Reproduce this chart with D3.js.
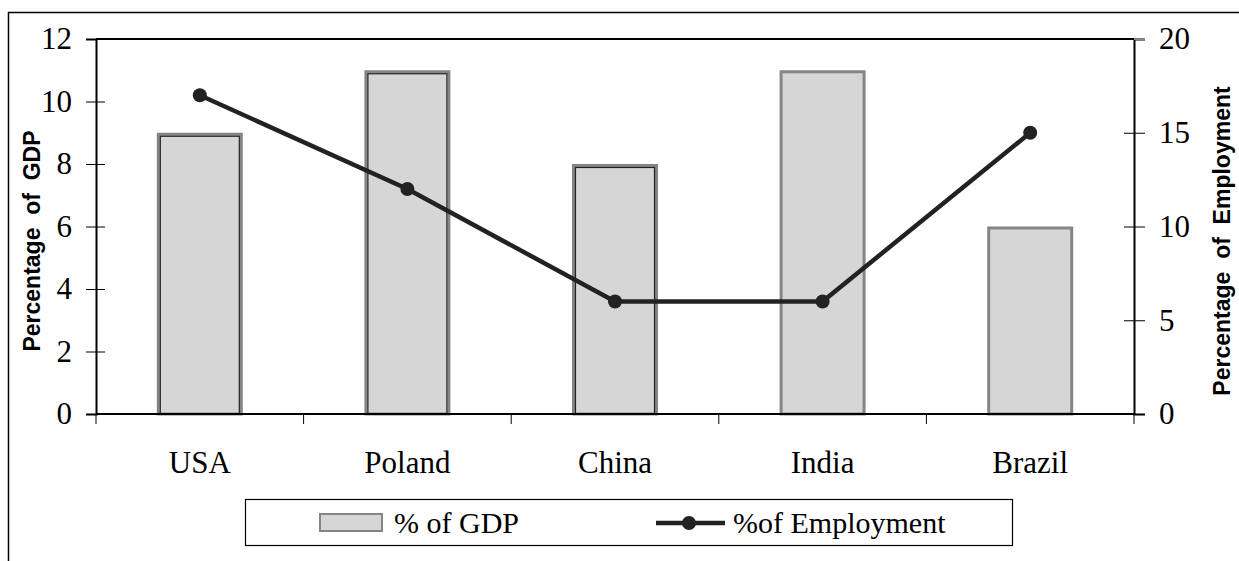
<!DOCTYPE html>
<html lang="en">
<head>
    <meta charset="UTF-8">
    <title>GDP and Employment</title>
    <script src="https://d3js.org/d3.v7.min.js"></script>
    <style>
        body { margin: 0; background: #fff; }
    </style>
</head>
<body>
    <div id="chart"></div>
    <script>
        // Data
        const countries = ["USA", "Poland", "China", "India", "Brazil"];
        const gdpShare = [9, 11, 8, 11, 6];
        const employmentShare = [17, 12, 6, 6, 15];
        const leftTicks = [0, 2, 4, 6, 8, 10, 12];
        const rightTicks = [0, 5, 10, 15, 20];

        const W = 1239, H = 561;
        const plot = { left: 96, right: 1134, top: 39, bottom: 414 };
        const SERIF = '"Liberation Serif", "Times New Roman", serif';
        const SANS = '"Liberation Sans", Arial, sans-serif';

        const svg = d3.select("#chart").append("svg")
            .attr("width", W).attr("height", H);

        // outer frame (clipped by the picture on right/bottom)
        svg.append("rect")
            .attr("x", 8.5).attr("y", 12.5)
            .attr("width", W).attr("height", H)
            .attr("fill", "none").attr("stroke", "#000").attr("stroke-width", 1.5);

        // Scales
        const x = d3.scaleBand().domain(countries).range([plot.left, plot.right]);
        const yL = d3.scaleLinear().domain([0, 12]).range([plot.bottom, plot.top]);
        const yR = d3.scaleLinear().domain([0, 20]).range([plot.bottom, plot.top]);

        // Bars
        const barW = 86;
        const bars = svg.append("g");
        countries.forEach((c, i) => {
            const bx = x(c) + x.bandwidth() / 2 - barW / 2;
            const by = yL(gdpShare[i]);
            bars.append("rect")
                .attr("x", bx + 1.5).attr("y", by + 1.5)
                .attr("width", barW - 3).attr("height", plot.bottom - by - 1.5)
                .attr("fill", "#d6d6d6")
                .attr("stroke", "#858585").attr("stroke-width", 3);
            if (i < 3) {
                bars.append("rect")
                    .attr("x", bx + 3.5).attr("y", by + 3.5)
                    .attr("width", barW - 7).attr("height", plot.bottom - by - 3.5)
                    .attr("fill", "none")
                    .attr("stroke", "#222").attr("stroke-width", 1.2);
            }
        });

        // Plot frame top line
        svg.append("line")
            .attr("x1", plot.left).attr("x2", plot.right)
            .attr("y1", plot.top).attr("y2", plot.top)
            .attr("stroke", "#000").attr("stroke-width", 2);

        // Left axis
        const left = svg.append("g").attr("transform", `translate(${plot.left},0)`)
            .call(d3.axisLeft(yL).tickValues(leftTicks).tickSize(10).tickPadding(14));
        left.select(".domain").attr("stroke-width", 2);
        left.selectAll(".tick line").attr("x2", -10).attr("x1", 9).attr("stroke-width", 1);
        left.selectAll(".tick text")
            .style("font-family", SERIF).style("font-size", "31px").attr("fill", "#000");

        // Right axis
        const right = svg.append("g").attr("transform", `translate(${plot.right},0)`)
            .call(d3.axisRight(yR).tickValues(rightTicks).tickSize(11).tickPadding(14));
        right.select(".domain").attr("stroke-width", 2);
        right.selectAll(".tick line").attr("x1", -10).attr("x2", 11).attr("stroke-width", 1);
        right.selectAll(".tick text")
            .style("font-family", SERIF).style("font-size", "31px").attr("fill", "#000");
        right.selectAll(".tick").filter(d => d === 20).select("line").attr("x1", 0).attr("stroke", "#888");

        // Bottom axis
        const bottom = svg.append("g");
        bottom.append("line")
            .attr("x1", plot.left).attr("x2", plot.right)
            .attr("y1", plot.bottom).attr("y2", plot.bottom)
            .attr("stroke", "#000").attr("stroke-width", 2);
        const bounds = countries.map(c => x(c)).concat([plot.right]);
        bottom.selectAll(".btick").data(bounds).enter().append("line")
            .attr("x1", d => d).attr("x2", d => d)
            .attr("y1", plot.bottom).attr("y2", plot.bottom + 10)
            .attr("stroke", "#000").attr("stroke-width", 1);
        bottom.selectAll(".blabel").data(countries).enter().append("text")
            .attr("x", d => x(d) + x.bandwidth() / 2)
            .attr("y", 473)
            .attr("text-anchor", "middle")
            .style("font-family", SERIF).style("font-size", "31px")
            .text(d => d);

        // Employment line
        const line = d3.line()
            .x((d, i) => x(countries[i]) + x.bandwidth() / 2)
            .y(d => yR(d));
        svg.append("path")
            .datum(employmentShare)
            .attr("d", line)
            .attr("fill", "none").attr("stroke", "#222").attr("stroke-width", 4.5);
        svg.selectAll(".dot").data(employmentShare).enter().append("circle")
            .attr("cx", (d, i) => x(countries[i]) + x.bandwidth() / 2)
            .attr("cy", d => yR(d))
            .attr("r", 7)
            .attr("fill", "#222");

        // Axis titles
        svg.append("text")
            .attr("transform", "translate(40,241) rotate(-90)")
            .attr("text-anchor", "middle")
            .style("font-family", SANS).style("font-size", "23px").style("font-weight", "bold")
            .style("white-space", "pre")
            .text("Percentage  of  GDP");
        svg.append("text")
            .attr("transform", "translate(1230,241) rotate(-90)")
            .attr("text-anchor", "middle")
            .style("font-family", SANS).style("font-size", "23px").style("font-weight", "bold")
            .style("white-space", "pre")
            .text("Percentage  of  Employment");

        // Legend
        const legend = svg.append("g");
        legend.append("rect")
            .attr("x", 245.5).attr("y", 499.5).attr("width", 767).attr("height", 46)
            .attr("fill", "#fff").attr("stroke", "#000").attr("stroke-width", 1.2);
        legend.append("rect")
            .attr("x", 320).attr("y", 514).attr("width", 62).attr("height", 17)
            .attr("fill", "#d6d6d6").attr("stroke", "#858585").attr("stroke-width", 2);
        legend.append("text")
            .attr("x", 394).attr("y", 533)
            .style("font-family", SERIF).style("font-size", "30px")
            .text("% of GDP");
        legend.append("line")
            .attr("x1", 656).attr("x2", 725).attr("y1", 523).attr("y2", 523)
            .attr("stroke", "#222").attr("stroke-width", 4.5);
        legend.append("circle")
            .attr("cx", 689).attr("cy", 523).attr("r", 7).attr("fill", "#222");
        legend.append("text")
            .attr("x", 733).attr("y", 533)
            .style("font-family", SERIF).style("font-size", "30px")
            .text("%of Employment");
    </script>
</body>
</html>
